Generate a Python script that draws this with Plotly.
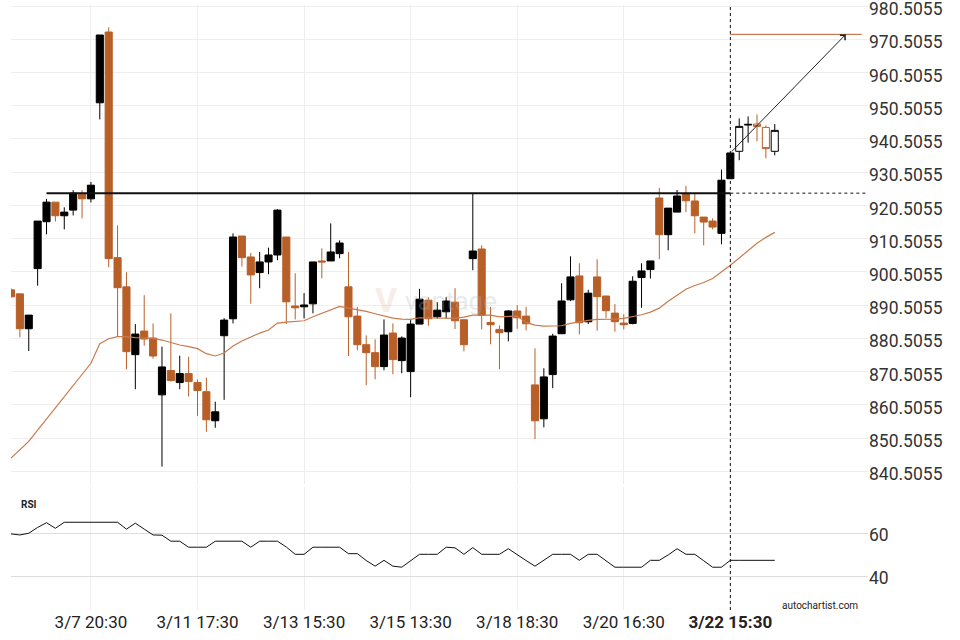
import plotly.graph_objects as go

# ---------------- data ----------------
opens  = [895.1, 893.9, 883.4, 901.5, 915.6, 921.5, 917.4, 919.1, 923.9, 922.5,
          951.4, 972.7, 904.8, 896.0, 875.6, 882.7, 880.6, 863.5, 870.8, 867.2,
          869.9, 867.2, 864.45, 855.7, 881.3, 886.4, 911.3, 905.0, 900.3, 903.5,
          905.6, 911.0, 890.25, 890.0, 890.9, 903.8, 903.8, 906.0, 896.0, 887.2,
          878.6, 876.2, 872.0, 882.1, 873.8, 870.5, 884.8, 892.0, 887.0, 888.5,
          891.4, 886.1, 904.5, 907.4, 885.3, 883.2, 882.5, 888.75, 887.2, 866.5,
          856.3, 869.6, 881.9, 892.1, 899.3, 885.5, 899.0, 893.25, 888.1, 885.1,
          885.0, 898.8, 901.2, 922.75, 911.7, 918.5, 923.95, 921.85, 917.0, 915.8,
          912.1, 928.55, 936.8, 944.7, 945.0, 944.0, 936.8]
highs  = [895.6, 893.9, 887.5, 915.8, 922.5, 921.5, 919.95, 925.1, 925.1, 927.6,
          971.8, 974.1, 914.5, 900.4, 884.8, 893.5, 885.0, 878.0, 888.05, 875.3,
          875.0, 868.1, 868.7, 861.45, 886.6, 912.1, 911.3, 906.2, 906.5, 907.8,
          919.4, 911.0, 900.1, 894.1, 903.5, 907.6, 915.1, 910.0, 906.5, 890.0,
          881.4, 880.2, 886.2, 885.0, 881.1, 886.0, 895.4, 892.9, 891.4, 892.9,
          895.6, 886.3, 924.2, 908.5, 890.0, 884.4, 889.0, 890.5, 890.0, 877.5,
          871.5, 881.9, 897.1, 905.2, 903.1, 895.1, 904.3, 893.25, 890.8, 887.75,
          899.2, 903.1, 903.8, 925.8, 919.7, 925.15, 926.4, 924.0, 917.0, 916.6,
          931.3, 936.3, 946.7, 947.3, 947.9, 944.6, 945.0]
lows   = [892.8, 880.8, 876.7, 896.35, 911.8, 915.7, 913.3, 917.5, 916.6, 921.4,
          946.4, 901.9, 881.2, 871.2, 865.2, 878.3, 874.4, 841.9, 867.5, 865.2,
          863.0, 857.2, 852.4, 853.6, 862.0, 885.0, 902.1, 890.9, 895.6, 899.8,
          904.0, 884.8, 886.2, 886.5, 888.05, 898.6, 903.8, 904.6, 875.2, 876.9,
          866.4, 868.2, 870.9, 869.7, 870.0, 862.8, 884.8, 884.3, 886.4, 886.4,
          883.3, 876.6, 901.0, 883.2, 878.7, 871.2, 879.6, 883.4, 882.9, 850.2,
          853.7, 865.5, 881.9, 891.7, 881.7, 884.8, 882.8, 886.6, 882.5, 883.2,
          884.7, 889.7, 898.5, 904.3, 907.0, 918.5, 918.5, 912.1, 908.5, 913.3,
          908.8, 928.55, 934.1, 939.4, 939.8, 934.7, 935.6]
closes = [893.0, 883.4, 887.5, 915.8, 921.5, 917.4, 918.5, 924.2, 922.5, 926.6,
          971.8, 904.5, 895.75, 876.5, 881.8, 880.3, 875.2, 871.9, 867.8, 869.9,
          867.5, 864.8, 856.0, 858.4, 886.0, 911.0, 904.8, 899.6, 903.5, 905.6,
          919.1, 891.5, 889.7, 890.55, 903.5, 903.5, 906.5, 909.2, 887.0, 878.6,
          876.2, 872.0, 881.5, 874.1, 880.6, 884.8, 892.3, 886.4, 889.0, 891.75,
          885.8, 878.6, 906.8, 887.4, 884.6, 882.2, 888.75, 886.7, 884.9, 855.7,
          868.9, 881.2, 891.75, 899.0, 885.2, 894.1, 893.05, 888.85, 885.5, 884.6,
          897.7, 900.8, 903.8, 911.7, 919.7, 923.35, 921.9, 917.4, 915.5, 914.0,
          928.1, 936.3, 944.3, 944.9, 944.3, 937.6, 943.1]

ma_values = [844.5, 846.9, 849.5, 852.9, 856.3, 859.7, 863.0, 866.4, 869.8, 873.0,
             878.9, 880.4, 881.0, 881.0, 880.7, 880.7, 880.5, 880.0, 879.2, 878.5,
             878.0, 877.4, 875.9, 875.2, 876.1, 878.2, 879.7, 880.9, 882.1, 883.0,
             885.1, 885.4, 885.6, 885.8, 887.0, 888.0, 888.9, 890.1, 889.6, 889.2,
             888.6, 887.9, 887.2, 886.6, 886.3, 886.2, 886.7, 886.7, 886.7, 886.6,
             886.5, 886.9, 887.5, 887.5, 887.5, 887.0, 887.1, 887.2, 885.3, 884.5,
             884.2, 884.2, 884.3, 885.0, 885.5, 885.9, 886.2, 886.2, 886.3, 886.5,
             887.0, 887.6, 888.4, 889.6, 891.7, 893.5, 895.3, 896.4, 897.3, 898.5,
             900.4, 902.5, 904.7, 906.9, 909.1, 910.9, 912.4]

rsi_values = [59.7, 59.2, 60.0, 62.7, 64.9, 62.3, 65.1, 65.1, 65.1, 65.1,
              65.1, 65.1, 65.1, 61.9, 64.7, 61.9, 59.2, 59.1, 56.3, 56.3,
              53.5, 53.5, 53.5, 56.3, 56.3, 56.3, 56.3, 53.5, 56.3, 56.3,
              56.3, 53.6, 50.2, 50.2, 53.5, 53.5, 53.5, 53.5, 50.5, 50.5,
              47.3, 44.7, 47.4, 44.7, 44.2, 47.0, 50.2, 50.2, 50.2, 53.5,
              53.2, 50.2, 53.3, 50.2, 50.2, 50.2, 52.8, 49.95, 47.3, 44.7,
              47.5, 50.2, 50.2, 50.2, 47.4, 50.2, 50.2, 47.1, 44.2, 44.2,
              44.2, 44.2, 47.4, 47.4, 49.9, 52.8, 50.2, 50.2, 47.2, 44.2,
              44.2, 47.4, 47.4, 47.4, 47.4, 47.4, 47.4]

tick_idx = [9, 21, 33, 45, 57, 69, 81]
tick_labels = ["3/7 20:30", "3/11 17:30", "3/13 15:30", "3/15 13:30",
               "3/18 18:30", "3/20 16:30", "<b>3/22 15:30</b>"]
price_ticks = [840.5055 + 10 * k for k in range(15)]
rsi_ticks = [40, 60]

resistance_level = 924.2
pattern_end_idx = 81
line_start_idx = 4
target_level = 972.0
target_end_idx = 95.8
arrow_start = (81, 936.3)
arrow_end = (94, 972.0)
n_filled = 82

ORANGE = "#B85F28"
MA_COLOR = "#C97A4C"
x = list(range(len(opens)))

fig = go.Figure()

# filled candles
fig.add_trace(go.Candlestick(
    x=x[:n_filled], open=opens[:n_filled], high=highs[:n_filled],
    low=lows[:n_filled], close=closes[:n_filled],
    increasing=dict(line=dict(color="#000000", width=1), fillcolor="#000000"),
    decreasing=dict(line=dict(color=ORANGE, width=1), fillcolor=ORANGE),
    whiskerwidth=0, showlegend=False, hoverinfo="skip",
    xaxis="x", yaxis="y"))

# hollow candles (after breakout)
fig.add_trace(go.Candlestick(
    x=x[n_filled:], open=opens[n_filled:], high=highs[n_filled:],
    low=lows[n_filled:], close=closes[n_filled:],
    increasing=dict(line=dict(color="#000000", width=1), fillcolor="#FFFFFF"),
    decreasing=dict(line=dict(color=ORANGE, width=1), fillcolor="#FFFFFF"),
    whiskerwidth=0, showlegend=False, hoverinfo="skip",
    xaxis="x", yaxis="y"))

# moving average
fig.add_trace(go.Scatter(x=x, y=ma_values, mode="lines",
                         line=dict(color=MA_COLOR, width=1.2),
                         showlegend=False, hoverinfo="skip",
                         xaxis="x", yaxis="y"))

# RSI
fig.add_trace(go.Scatter(x=x, y=rsi_values, mode="lines",
                         line=dict(color="#111111", width=1),
                         showlegend=False, hoverinfo="skip",
                         xaxis="x2", yaxis="y2"))

x_range = [0.0, 96.5]
plot_l, plot_r, plot_t, plot_b = 11, 868, 5, 610

fig.update_layout(
    width=960, height=640,
    margin=dict(l=plot_l, r=960 - plot_r, t=plot_t, b=640 - plot_b, autoexpand=False),
    paper_bgcolor="white", plot_bgcolor="white",
    font=dict(family="Roboto, 'Open Sans', sans-serif", color="#222222", size=17),
    boxgap=0.2, boxgroupgap=0,
    xaxis=dict(domain=[0, 1], anchor="y", range=x_range, showticklabels=False,
               tickvals=tick_idx, showgrid=True, gridcolor="#EEEEEE", gridwidth=1,
               zeroline=False, showline=False, rangeslider=dict(visible=False),
               automargin=False, fixedrange=True),
    yaxis=dict(domain=[0.2083, 1], anchor="x", range=[836.68, 980.83], side="right",
               tickvals=price_ticks, ticktext=[f"{v:.4f}" for v in price_ticks],
               showgrid=True, gridcolor="#EEEEEE", gridwidth=1, zeroline=False,
               tickfont=dict(size=17.5, color="#333333"), ticks="",
               ticklabelshift=3,
               automargin=False, ticklabeloverflow="allow"),
    xaxis2=dict(domain=[0, 1], anchor="y2", range=x_range, matches="x",
                tickvals=tick_idx, ticktext=tick_labels,
                showgrid=True, gridcolor="#EEEEEE", gridwidth=1, zeroline=False,
                tickfont=dict(size=17, color="#222222"), ticks="",
                automargin=False, ticklabeloverflow="allow"),
    yaxis2=dict(domain=[0, 0.2033], anchor="x2", range=[24.3, 81.5], side="right",
                tickvals=rsi_ticks, showgrid=True, gridcolor="#DDDDDD", gridwidth=1,
                zeroline=False, tickfont=dict(size=17.5, color="#333333"), ticks="",
                ticklabelshift=2,
                automargin=False, ticklabeloverflow="allow"),
)

shapes = [
    dict(type="line", xref="x", yref="y", x0=line_start_idx, x1=pattern_end_idx,
         y0=resistance_level, y1=resistance_level,
         line=dict(color="#111111", width=2)),
    dict(type="line", xref="x", yref="y", x0=pattern_end_idx, x1=x_range[1],
         y0=resistance_level, y1=resistance_level,
         line=dict(color="#111111", width=1, dash="dot")),
    dict(type="line", xref="x", yref="paper", x0=pattern_end_idx, x1=pattern_end_idx,
         y0=0, y1=1, line=dict(color="#111111", width=1, dash="dot")),
    dict(type="line", xref="x", yref="y", x0=pattern_end_idx, x1=target_end_idx,
         y0=target_level, y1=target_level, line=dict(color=ORANGE, width=1)),
]
fig.update_layout(shapes=shapes)

def px_to_paper(px, py):
    return (px - plot_l) / (plot_r - plot_l), (plot_b - py) / (plot_b - plot_t)

rx, ry = px_to_paper(19, 504)
cx, cy = px_to_paper(860, 605)
wx, wy = px_to_paper(403, 301)
vx, vy = px_to_paper(386, 300)

annotations = [
    dict(x=arrow_end[0], y=arrow_end[1], ax=arrow_start[0], ay=arrow_start[1],
         xref="x", yref="y", axref="x", ayref="y", text="", showarrow=True,
         arrowhead=4, arrowsize=1.4, arrowwidth=1, arrowcolor="#222222"),
    dict(x=rx, y=ry, xref="paper", yref="paper", text="<b>RSI</b>",
         showarrow=False, font=dict(size=10, color="#222222"),
         xanchor="left", yanchor="middle"),
    dict(text="autochartist.com", x=cx, y=cy, xref="paper", yref="paper",
         showarrow=False, font=dict(size=10, color="#222222"),
         xanchor="right", yanchor="middle"),
    dict(text="vantage", x=wx, y=wy, xref="paper", yref="paper", showarrow=False,
         font=dict(size=26, color="rgba(180,185,185,0.3)"),
         xanchor="left", yanchor="middle"),
    dict(text="<b>V</b>", x=vx, y=vy, xref="paper", yref="paper", showarrow=False,
         font=dict(size=34, color="rgba(200,140,110,0.18)"),
         xanchor="center", yanchor="middle"),
]
fig.update_layout(annotations=annotations)

fig.write_html("out.html",
               config={"displayModeBar": False, "staticPlot": True},
               post_script="document.body.style.margin='0';document.body.style.padding='0';")
